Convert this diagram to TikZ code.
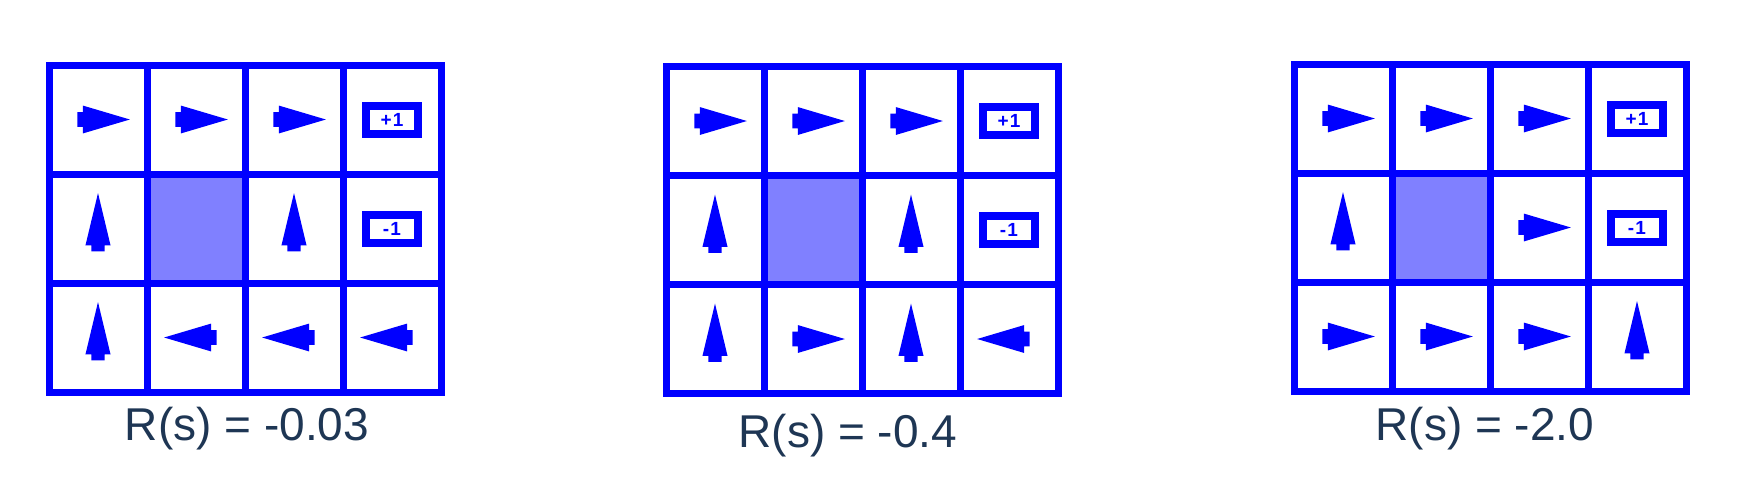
\documentclass[tikz,border=0pt]{standalone}
\usepackage{fontspec}
\setmainfont{Liberation Sans}
\definecolor{gridblue}{RGB}{0,0,255}
\definecolor{wallfill}{RGB}{128,128,255}
\definecolor{labelnavy}{RGB}{30,54,84}
\tikzset{
  gridline/.style={draw=gridblue, line width=3.5pt},
  wallcell/.style={fill=wallfill},
  rewardbox/.style={draw=gridblue, line width=4pt, fill=white, minimum width=26pt, minimum height=14pt, inner sep=0pt, text=gridblue, font=\bfseries\fontsize{9.5}{10}\selectfont},
  rlabel/.style={text=labelnavy, font=\fontsize{23}{26}\selectfont, inner sep=0pt},
  arrowglyph/.style={fill=gridblue}
}
% row, col, angle (0 right, 90 up, 180 left)
\newcommand{\cellarrow}[3]{%
  \fill[arrowglyph, shift={({98*(#2-0.5)},{109*(#1-0.5)})}, xscale=98, yscale=109, rotate=#3]
    (0.325,0) -- (-0.155,0.128) -- (-0.155,0.068) -- (-0.21,0.068) -- (-0.21,-0.068)
    -- (-0.155,-0.068) -- (-0.155,-0.128) -- cycle;}
\newcommand{\gridframe}[1]{%
  \fill[wallcell] (98,109) rectangle (196,218);
  \draw[gridline] (0,0) rectangle (392,327);
  \foreach \i in {1,2,3} \draw[gridline] (98*\i,0) -- (98*\i,327);
  \foreach \j in {1,2} \draw[gridline] (0,109*\j) -- (392,109*\j);
  \node[rewardbox] (#1plus) at (343,54.5) {+\kern0.6pt1};
  \node[rewardbox] (#1minus) at (343,163.5) {-\kern0.6pt1};}
\begin{document}
\begin{tikzpicture}[x=0.5pt,y=-0.5pt]
\useasboundingbox (0,0) rectangle (1746,494);
\fill[white] (0,0) rectangle (1746,494);
% Grid 1
\begin{scope}[shift={(49,65)}]
  \gridframe{ga}
  \cellarrow{1}{1}{0} \cellarrow{1}{2}{0} \cellarrow{1}{3}{0}
  \cellarrow{2}{1}{90} \cellarrow{2}{3}{90}
  \cellarrow{3}{1}{90} \cellarrow{3}{2}{180} \cellarrow{3}{3}{180} \cellarrow{3}{4}{180}
\end{scope}
% Grid 2
\begin{scope}[shift={(666,66.5)}]
  \gridframe{gb}
  \cellarrow{1}{1}{0} \cellarrow{1}{2}{0} \cellarrow{1}{3}{0}
  \cellarrow{2}{1}{90} \cellarrow{2}{3}{90}
  \cellarrow{3}{1}{90} \cellarrow{3}{2}{0} \cellarrow{3}{3}{90} \cellarrow{3}{4}{180}
\end{scope}
% Grid 3
\begin{scope}[shift={(1294,64)}]
  \gridframe{gc}
  \cellarrow{1}{1}{0} \cellarrow{1}{2}{0} \cellarrow{1}{3}{0}
  \cellarrow{2}{1}{90} \cellarrow{2}{3}{0}
  \cellarrow{3}{1}{0} \cellarrow{3}{2}{0} \cellarrow{3}{3}{0} \cellarrow{3}{4}{90}
\end{scope}
\node[rlabel] (la) at (247,429) {R(s) = -0.03};
\node[rlabel] (lb) at (848,436) {R(s) = -0.4};
\node[rlabel] (lc) at (1485,429) {R(s) = -2.0};
\end{tikzpicture}
\end{document}
